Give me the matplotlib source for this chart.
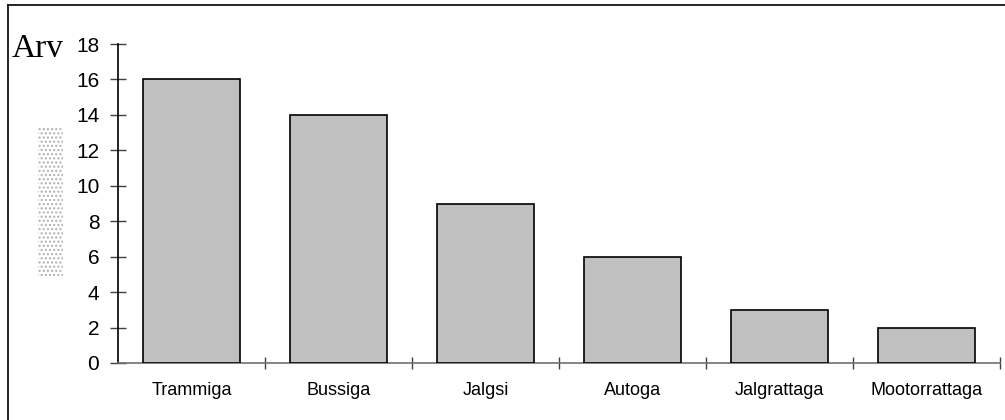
import matplotlib
matplotlib.use("Agg")
import matplotlib.pyplot as plt
from matplotlib.patches import Rectangle
from matplotlib.lines import Line2D

categories = ["Trammiga", "Bussiga", "Jalgsi", "Autoga", "Jalgrattaga", "Mootorrattaga"]
values = [16, 14, 9, 6, 3, 2]
y_ticks = [0, 2, 4, 6, 8, 10, 12, 14, 16, 18]

W, H = 1005, 420
fig = plt.figure(figsize=(W / 100, H / 100), dpi=100)
fig.patch.set_facecolor("white")

# outer frame (left and top edges)
fig.add_artist(Line2D([8 / W, 8 / W], [0, 1 - 5 / H], transform=fig.transFigure,
                      color="black", lw=1.2))
fig.add_artist(Line2D([8 / W, 1], [1 - 5 / H, 1 - 5 / H], transform=fig.transFigure,
                      color="black", lw=1.2))

ax = fig.add_axes([118 / W, 1 - 363 / H, (1000 - 118) / W, (363 - 44) / H])

positions = [i + 0.5 for i in range(len(categories))]
ax.bar(positions, values, width=0.66, color="#c0c0c0", edgecolor="black",
       linewidth=1.2, zorder=3)

ax.set_xlim(0, len(categories))
ax.set_ylim(0, 18)
ax.set_yticks(y_ticks)
ax.set_yticklabels([str(v) for v in y_ticks], family="Liberation Sans", fontsize=15)

ax.set_xticks(range(1, len(categories) + 1))
ax.set_xticklabels([])
ax.set_xticks(positions, minor=True)
ax.set_xticklabels(categories, minor=True, family="Liberation Sans", fontsize=13)

for s in ("top", "right"):
    ax.spines[s].set_visible(False)
ax.spines["left"].set_color("black")
ax.spines["left"].set_linewidth(1.2)
ax.spines["bottom"].set_color("#707070")
ax.spines["bottom"].set_linewidth(1.2)

ax.tick_params(axis="y", direction="inout", length=11, width=1, color="#404040", pad=8)
ax.tick_params(axis="x", which="major", direction="inout", length=9, width=1,
               color="#404040")
ax.tick_params(axis="x", which="minor", length=0, pad=14)

fig.text(12 / W, 1 - 57 / H, "Arv", family="Liberation Serif", fontsize=24,
         ha="left", va="baseline")

# stippled placeholder block beside the value axis
fig.add_artist(Rectangle((38 / W, 1 - 278 / H), 25 / W, 150 / H,
                         transform=fig.transFigure, facecolor="none",
                         edgecolor="#b0b0b0", hatch="....", linewidth=0))

fig.savefig("out.png", dpi=100)
